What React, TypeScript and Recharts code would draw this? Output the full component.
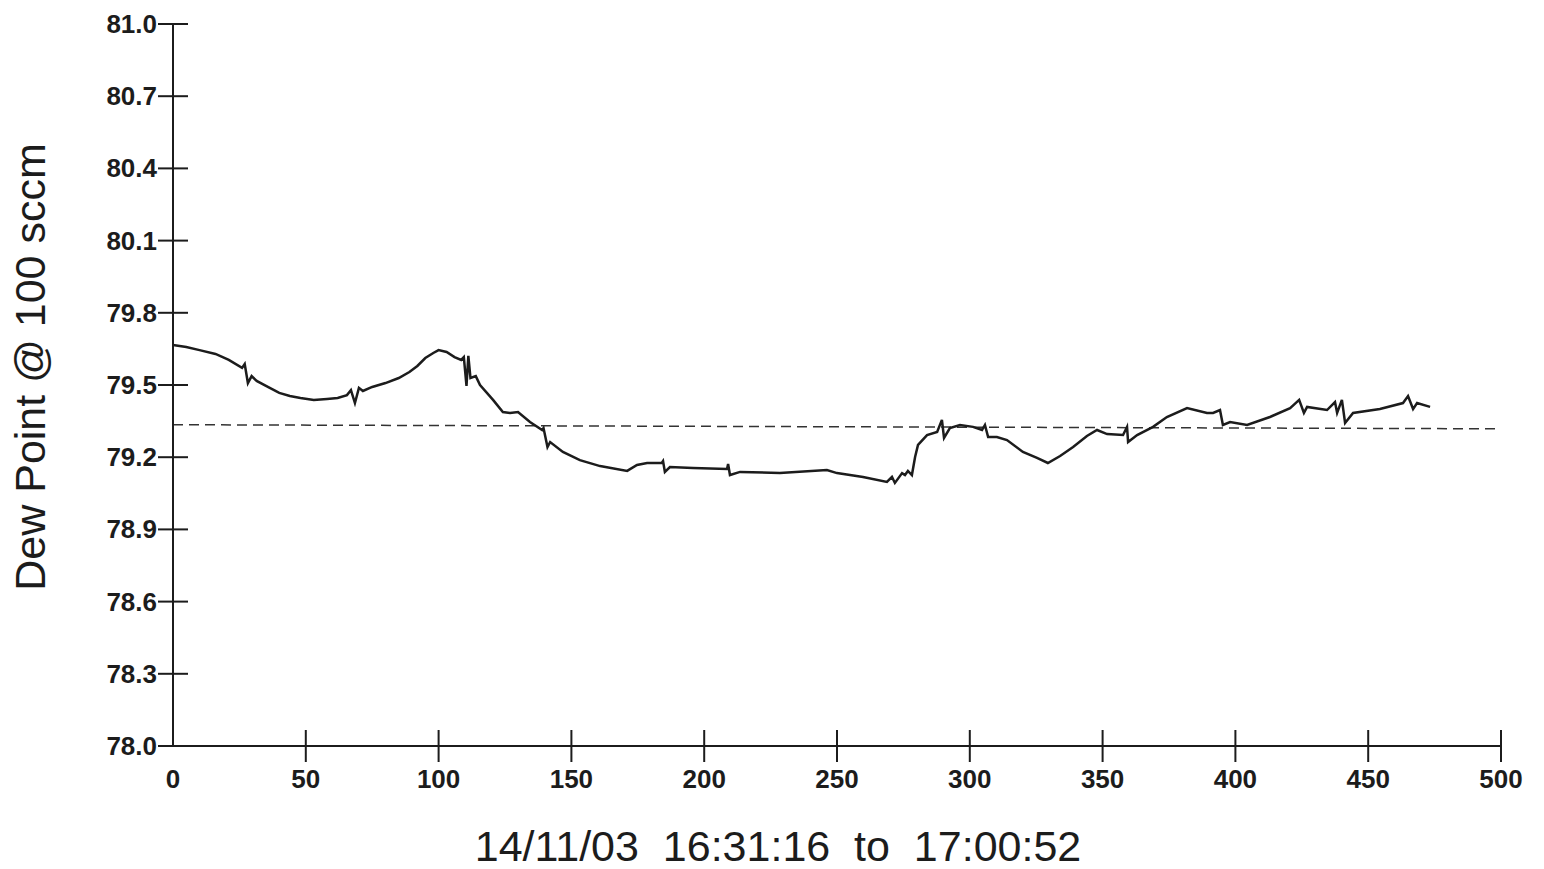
import React from 'react';
import { LineChart, Line, XAxis, YAxis, ReferenceLine } from 'recharts';

const timeValues = [0, 5, 10, 16, 21, 26, 27, 28.2, 29.6, 31.5, 35, 40, 44, 48, 53, 58, 62, 65.5, 67, 68.5, 70, 71.5, 75, 80, 85, 89, 92, 95, 98, 100, 103, 106, 108.5, 109.5, 110.5, 111.2, 112, 114, 115.6, 120.5, 124.2, 126.9, 129.9, 134.4, 139, 139.5, 141, 142, 146.8, 153.2, 160.8, 171, 174.7, 178.5, 184, 184.5, 185.2, 187.1, 195.8, 208.6, 209, 209.7, 213.5, 228.5, 246.2, 250, 259.8, 268.8, 270.7, 271.8, 274.5, 275.6, 276.7, 278.2, 279.4, 280.5, 283.9, 287.7, 289.5, 290.3, 292.5, 296.3, 301.2, 304.6, 305.7, 306.9, 310.2, 314, 320, 325.3, 329.4, 334, 338.9, 344.1, 347.9, 351.7, 357.7, 359.2, 359.6, 363, 369, 374.2, 381.8, 389.3, 391.6, 394.2, 395.3, 398, 404.4, 413, 420.6, 424, 425.8, 427, 434.5, 437.5, 438.3, 440.1, 441.3, 444.3, 454.4, 463.1, 465, 466.9, 468.4, 473.3];

const dewPoints = [79.666, 79.658, 79.645, 79.629, 79.604, 79.571, 79.587, 79.508, 79.537, 79.517, 79.496, 79.467, 79.454, 79.446, 79.438, 79.442, 79.446, 79.458, 79.479, 79.425, 79.488, 79.475, 79.492, 79.508, 79.529, 79.554, 79.579, 79.612, 79.633, 79.645, 79.637, 79.616, 79.604, 79.616, 79.496, 79.621, 79.529, 79.537, 79.5, 79.438, 79.388, 79.384, 79.388, 79.346, 79.313, 79.321, 79.242, 79.263, 79.222, 79.188, 79.163, 79.143, 79.168, 79.176, 79.176, 79.184, 79.139, 79.159, 79.155, 79.151, 79.172, 79.126, 79.139, 79.134, 79.147, 79.134, 79.118, 79.097, 79.118, 79.093, 79.134, 79.126, 79.143, 79.126, 79.201, 79.251, 79.292, 79.305, 79.355, 79.28, 79.321, 79.334, 79.326, 79.313, 79.334, 79.284, 79.284, 79.271, 79.222, 79.197, 79.176, 79.205, 79.242, 79.288, 79.313, 79.296, 79.292, 79.326, 79.263, 79.292, 79.326, 79.367, 79.404, 79.384, 79.384, 79.396, 79.334, 79.346, 79.334, 79.367, 79.404, 79.438, 79.384, 79.409, 79.396, 79.429, 79.384, 79.438, 79.342, 79.384, 79.4, 79.425, 79.454, 79.4, 79.425, 79.409];

const xTicks = [0, 50, 100, 150, 200, 250, 300, 350, 400, 450, 500];
const yTicks = [78.0, 78.3, 78.6, 78.9, 79.2, 79.5, 79.8, 80.1, 80.4, 80.7, 81.0];
const referenceStart = { x: 0, y: 79.335 };
const referenceEnd = { x: 500, y: 79.318 };

const yTitle = 'Dew Point @ 100 sccm';
const xTitle = '14/11/03\u00a0\u00a016:31:16\u00a0\u00a0to\u00a0\u00a017:00:52';

const data = timeValues.map((t, i) => ({ t, v: dewPoints[i] }));

const FONT = '"Liberation Sans", Arial, sans-serif';
const INK = '#1c1c1c';

const XTick = (props: any) => {
  const { x, y, payload } = props;
  return (
    <g>
      {payload.value !== 0 && (
        <line x1={x} x2={x} y1={y - 16} y2={y + 16} stroke={INK} strokeWidth={2} />
      )}
      <text x={x} y={y + 42} textAnchor="middle" fontFamily={FONT} fontWeight="bold" fontSize={26} fill={INK}>
        {payload.value}
      </text>
    </g>
  );
};

const YTick = (props: any) => {
  const { x, y, payload } = props;
  return (
    <g>
      <line x1={x - 15} x2={x + 15} y1={y} y2={y} stroke={INK} strokeWidth={2} />
      <text x={x - 16} y={y + 9} textAnchor="end" fontFamily={FONT} fontWeight="bold" fontSize={26} fill={INK}>
        {Number(payload.value).toFixed(1)}
      </text>
    </g>
  );
};

export default function App() {
  return (
    <div style={{ position: 'absolute', left: 0, top: 0, width: 1544, height: 869, background: '#fff' }}>
      <LineChart width={1544} height={869} data={data} margin={{ top: 24, right: 43, bottom: 0, left: 0 }}>
        <XAxis
          dataKey="t"
          type="number"
          domain={[0, 500]}
          ticks={xTicks}
          height={123}
          tickSize={0}
          tickMargin={0}
          tickLine={false}
          axisLine={{ stroke: INK, strokeWidth: 2 }}
          tick={<XTick />}
          interval={0}
          label={{
            content: () => (
              <text x={778} y={861} textAnchor="middle" fontFamily={FONT} fontSize={43} fill={INK}>
                {xTitle}
              </text>
            ),
          }}
        />
        <YAxis
          type="number"
          domain={[78, 81]}
          ticks={yTicks}
          width={173}
          tickSize={0}
          tickMargin={0}
          tickLine={false}
          axisLine={{ stroke: INK, strokeWidth: 2 }}
          tick={<YTick />}
          interval={0}
          allowDataOverflow
          label={{
            content: () => (
              <text x={45} y={367} transform="rotate(-90, 45, 367)" textAnchor="middle" fontFamily={FONT} fontSize={43} fill={INK}>
                {yTitle}
              </text>
            ),
          }}
        />
        <ReferenceLine
          segment={[referenceStart, referenceEnd]}
          stroke="#333"
          strokeWidth={1.5}
          strokeDasharray="10 6"
        />
        <Line
          type="linear"
          dataKey="v"
          stroke={INK}
          strokeWidth={2.5}
          dot={false}
          isAnimationActive={false}
        />
      </LineChart>
    </div>
  );
}
